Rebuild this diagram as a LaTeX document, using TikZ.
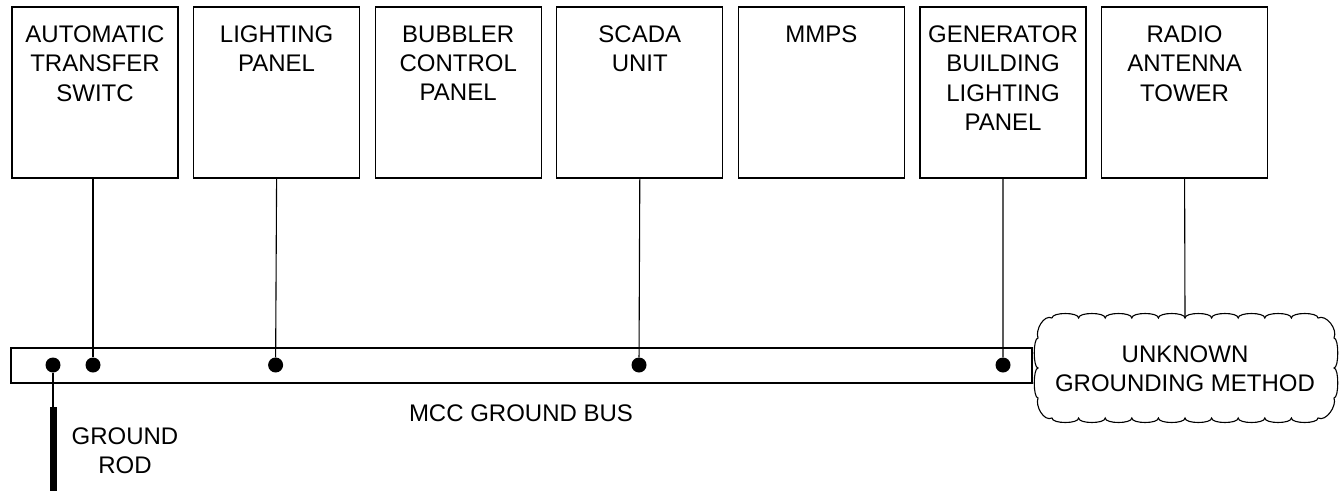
\documentclass[tikz,border=0pt]{standalone}
\usepackage{fontspec}
\setmainfont{Liberation Sans}
\begin{document}
\begin{tikzpicture}[x=1pt,y=-1pt,
  box/.style={draw=black,line width=1.3pt,minimum width=166pt,minimum height=171pt,inner sep=0pt},
  boxtext/.style={anchor=north,inner sep=0pt,align=center,font=\fontsize{24}{29.3}\selectfont},
  lbl/.style={inner sep=0pt,align=center,font=\fontsize{24}{29.3}\selectfont},
  wire/.style={draw=black,line width=1.1pt},
  dot/.style={circle,fill=black,inner sep=0pt,minimum size=15pt},
  cloudline/.style={draw=black,line width=1.1pt}]
\useasboundingbox[fill=white] (0,0) rectangle (1344,490);
% equipment boxes
\foreach \i/\t in {0/{AUTOMATIC\\TRANSFER\\SWITC},1/{LIGHTING\\PANEL},2/{BUBBLER\\CONTROL\\PANEL},3/{SCADA\\UNIT},4/{MMPS},5/{GENERATOR\\BUILDING\\LIGHTING\\PANEL},6/{RADIO\\ANTENNA\\TOWER}}{
  \node[box] (b\i) at ({95+181.6*\i},92.5) {};
  \node[boxtext] (t\i) at ({95+181.6*\i},25.5) {\t};
}
% ground bus
\node[box,minimum width=1021pt,minimum height=35pt,line width=1.2pt] (bus) at (521.5,365.5) {};
\node[lbl] (buslbl) at (521,413) {MCC GROUND BUS};
% dots
\node[dot] (d0) at (53,365) {};
\node[dot] (d1) at (93,365) {};
\node[dot] (d2) at (275.6,365) {};
\node[dot] (d4) at (639,365) {};
\node[dot] (d6) at (1003,365) {};
% connectors
\draw[wire] (d1 |- b0.south) -- (d1);
\draw[wire] (b1.south) -- (d2);
\draw[wire] (b3.south) -- (d4);
\draw[wire] (b5.south) -- (d6);
% ground rod
\coordinate (rodtop) at (53,407);
\coordinate (rodbot) at (53,492);
\draw[wire] (d0) -- (rodtop);
\draw[line width=7pt] (rodtop) -- (rodbot);
\node[lbl] (rodlbl) at (125,450.5) {GROUND\\ROD};
% cloud
\draw[cloudline] (1052,318)
  \foreach \k in {1,...,10} { .. controls +(0,-6) and +(0,-6) .. ++(26.6,0) }
  .. controls +(8,-4) and +(4,-9) .. (1334,338)
  \foreach \k in {1,2} { .. controls +(5,0) and +(5,0) .. ++(0,30) }
  .. controls +(3,8) and +(8,4) .. (1318,418)
  \foreach \k in {1,...,10} { .. controls +(0,6) and +(0,6) .. ++(-26.6,0) }
  .. controls +(-8,4) and +(-3,8) .. (1038,398)
  \foreach \k in {1,2} { .. controls +(-5,0) and +(-5,0) .. ++(0,-30) }
  .. controls +(-3,-8) and +(-8,-4) .. (1052,318);
\coordinate (cloudtop) at (1185,318);
\node[lbl] (cloud) at (1185,368.5) {UNKNOWN\\GROUNDING METHOD};
\draw[wire] (b6.south) -- (cloudtop);
\end{tikzpicture}
\end{document}
